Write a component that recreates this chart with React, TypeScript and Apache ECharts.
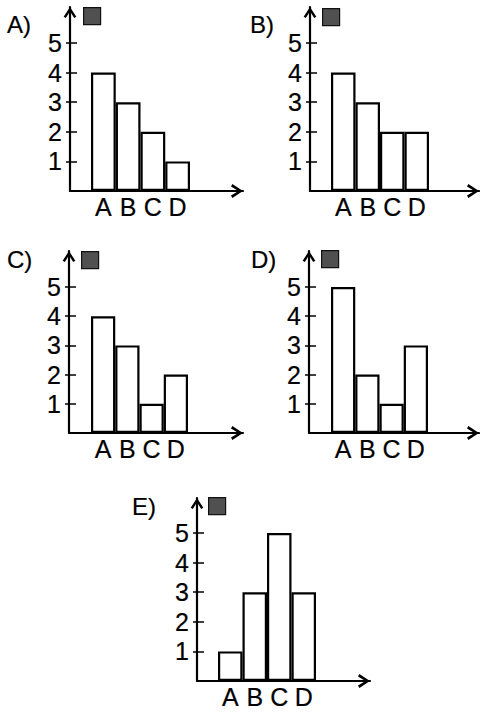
import { useEffect, useRef } from 'react';
import * as echarts from 'echarts';

const categories = ['A', 'B', 'C', 'D'];
const panelLabels = ['A)', 'B)', 'C)', 'D)', 'E)'];
const valuesA = [4, 3, 2, 1];
const valuesB = [4, 3, 2, 2];
const valuesC = [4, 3, 1, 2];
const valuesD = [5, 2, 1, 3];
const valuesE = [1, 3, 5, 3];
const yTickValues = [1, 2, 3, 4, 5];

const panelValues = [valuesA, valuesB, valuesC, valuesD, valuesE];

// layout (pixels) for each panel
const layouts = [
  { axisX: 70, axisY: 191, tipX: 243, tipY: 7, barStart: 91, barW: 24.75, unitY: 29.6, title: [7, 12], legend: [83, 7] },
  { axisX: 310, axisY: 191, tipX: 479, tipY: 7, barStart: 331, barW: 24.5, unitY: 29.6, title: [250, 12], legend: [322, 8] },
  { axisX: 69, axisY: 433, tipX: 243, tipY: 251, barStart: 91, barW: 24.25, unitY: 29.2, title: [7, 247], legend: [81, 251] },
  { axisX: 309, axisY: 433, tipX: 479, tipY: 251, barStart: 331, barW: 24.25, unitY: 29.2, title: [251, 247], legend: [321, 250] },
  { axisX: 197, axisY: 681, tipX: 370, tipY: 498, barStart: 218, barW: 24.5, unitY: 29.6, title: [132, 494], legend: [208, 497] },
];

const FONT = '"Liberation Sans", Arial, Helvetica, sans-serif';
const ARROW = 'path://M0,10 L6.5,0 L13,10 L10.8,11.3 L6.5,4.3 L2.2,11.3 Z';

export default function App() {
  const ref = useRef<HTMLDivElement>(null);

  useEffect(() => {
    if (!ref.current) return;
    const chart = echarts.init(ref.current, null, { renderer: 'svg', width: 480, height: 712 });

    const grid: any[] = [];
    const xAxis: any[] = [];
    const yAxis: any[] = [];
    const series: any[] = [];
    const title: any[] = [];
    const legend: any[] = [];

    const heavy = { textBorderColor: '#000', textBorderWidth: 0.2 };

    layouts.forEach((l, i) => {
      const gw = l.tipX - l.axisX;
      const gh = l.axisY - l.tipY;
      const xMin = -((l.barStart - l.axisX) / l.barW + 0.5);
      const xMax = xMin + gw / l.barW;
      const yMax = gh / l.unitY;

      grid.push({
        left: l.axisX,
        top: l.tipY,
        width: gw,
        height: gh,
        containLabel: false,
        outerBoundsMode: 'none',
      });

      xAxis.push({
        type: 'value',
        gridIndex: i,
        min: xMin,
        max: xMax,
        axisLine: {
          show: true,
          onZero: false,
          symbol: ['none', ARROW],
          symbolSize: [14, 12],
          symbolOffset: [0, -6],
          lineStyle: { color: '#000', width: 2.2 },
        },
        axisTick: { show: false },
        splitLine: { show: false },
        axisLabel: {
          customValues: categories.map((_, k) => k),
          formatter: (v: number) => categories[Math.round(v)] ?? '',
          fontSize: 25,
          color: '#000',
          fontFamily: FONT,
          margin: 3,
          ...heavy,
        },
      });

      yAxis.push({
        type: 'value',
        gridIndex: i,
        position: 'left',
        min: 0,
        max: yMax,
        axisLine: {
          show: true,
          onZero: false,
          symbol: ['none', ARROW],
          symbolSize: [13, 11],
          symbolOffset: [0, -5.5],
          lineStyle: { color: '#000', width: 2.2 },
        },
        axisTick: { show: true, length: 4, customValues: yTickValues, lineStyle: { color: '#000', width: 1.5 } },
        axisLabel: {
          customValues: yTickValues,
          fontSize: 25,
          color: '#000',
          fontFamily: FONT,
          margin: 8,
          ...heavy,
        },
        splitLine: { show: false },
      });
      yAxis.push({
        type: 'value',
        gridIndex: i,
        position: 'left',
        min: 0,
        max: yMax,
        axisLine: { show: false, onZero: false },
        axisTick: { show: true, inside: true, length: 7, customValues: yTickValues, lineStyle: { color: '#000', width: 1.5 } },
        axisLabel: { show: false },
        splitLine: { show: false },
      });

      series.push({
        type: 'bar',
        name: panelLabels[i],
        xAxisIndex: i,
        yAxisIndex: i * 2,
        barWidth: l.barW,
        data: panelValues[i].map((v, k) => [k, v]),
        itemStyle: { color: '#ffffff', borderColor: '#000', borderWidth: 2.2 },
        emphasis: { disabled: true },
      });

      title.push({
        text: panelLabels[i],
        left: l.title[0],
        top: l.title[1],
        padding: 0,
        textStyle: { fontSize: 24, fontWeight: 'normal', color: '#000', fontFamily: FONT, ...heavy },
      });

      legend.push({
        data: [
          {
            name: panelLabels[i],
            icon: 'rect',
            itemStyle: { color: '#505050', borderColor: '#111', borderWidth: 1.2 },
          },
        ],
        left: l.legend[0],
        top: l.legend[1],
        itemWidth: 17,
        itemHeight: 17,
        padding: 0,
        itemGap: 0,
        selectedMode: false,
        formatter: () => '',
      });
    });

    chart.setOption({
      animation: false,
      backgroundColor: '#ffffff',
      textStyle: { fontFamily: FONT },
      grid,
      xAxis,
      yAxis,
      series,
      title,
      legend,
    });

    return () => chart.dispose();
  }, []);

  return (
    <div
      ref={ref}
      style={{ position: 'fixed', left: 0, top: 0, width: 480, height: 712, background: '#fff' }}
    />
  );
}
